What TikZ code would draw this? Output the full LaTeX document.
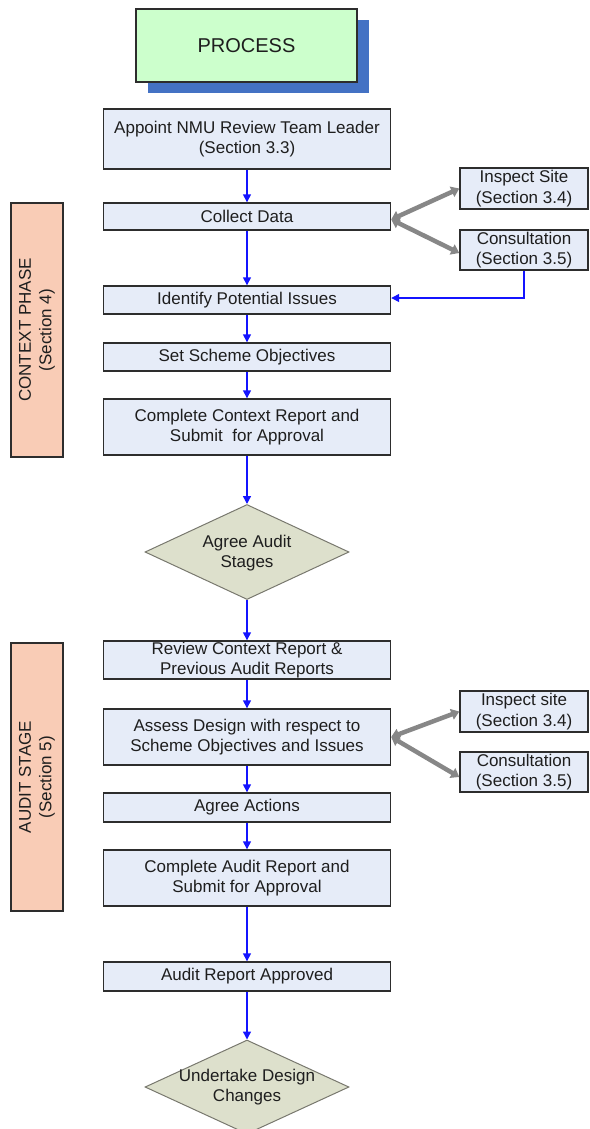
\documentclass[tikz,border=0pt]{standalone}
\usepackage{fontspec}
\setmainfont{Liberation Sans}
\usetikzlibrary{shapes.geometric,arrows.meta}
\definecolor{boxfill}{RGB}{230,236,248}
\definecolor{boxedge}{RGB}{45,45,45}
\definecolor{greenfill}{RGB}{204,255,204}
\definecolor{shadowblue}{RGB}{68,114,196}
\definecolor{peach}{RGB}{249,204,182}
\definecolor{dfill}{RGB}{221,224,204}
\definecolor{dedge}{RGB}{120,120,110}
\definecolor{arrblue}{RGB}{20,20,255}
\definecolor{arrgray}{RGB}{135,135,135}
\definecolor{txt}{RGB}{30,30,30}
\tikzset{
  every node/.style={font=\fontsize{17}{20.5}\selectfont, text=txt},
  stepbox/.style={draw=boxedge, line width=1.4pt, fill=boxfill, rectangle, inner sep=0pt, align=center, minimum width=287pt},
  sidebox/.style={draw=boxedge, line width=1.4pt, fill=boxfill, rectangle, inner sep=0pt, align=center, minimum width=128pt},
  phasebox/.style={draw=boxedge, line width=1.4pt, fill=peach, rectangle, inner sep=0pt, align=center, rotate=90, minimum height=52pt},
  decide/.style={draw=dedge, line width=1pt, fill=dfill, diamond, aspect=2.15, inner sep=0pt, minimum width=204pt},
  decidetext/.style={align=center, inner sep=0pt},
  flow/.style={draw=arrblue, line width=1.4pt, -{Triangle[length=8pt,width=8pt]}},
  link/.style={draw=arrgray, line width=4.5pt, {Triangle[length=8pt,width=11pt]}-{Triangle[length=8pt,width=11pt]}},
}
\begin{document}
\begin{tikzpicture}[x=1pt,y=-1pt]
\useasboundingbox (0,0) rectangle (589,1129);
% PROCESS
\fill[shadowblue] (148,20) rectangle (369,93);
\node[draw=boxedge, line width=1.4pt, fill=greenfill, rectangle, minimum width=221pt, minimum height=73pt, inner sep=0pt, font=\fontsize{20}{24}\selectfont] (process) at (246.5,45.5) {PROCESS};
% main steps
\node[stepbox, minimum height=60pt] (appoint) at (247,139) {Appoint NMU Review Team Leader\\(Section 3.3)};
\node[stepbox, minimum height=27pt] (collect) at (247,216.5) {Collect Data};
\node[stepbox, minimum height=28pt] (identify) at (247,300) {Identify Potential Issues};
\node[stepbox, minimum height=28pt] (setobj) at (247,357) {Set Scheme Objectives};
\node[stepbox, minimum height=56pt] (ccr) at (247,427) {Complete Context Report and\\Submit\ \ for Approval};
\node[decide, minimum height=95pt] (agreestages) at (247,552) {};
\node[decidetext] (agreestagestext) at (247,553) {Agree Audit\\Stages};
\node[stepbox, minimum height=38pt] (review) at (247,660) {Review Context Report \&\\Previous Audit Reports};
\node[stepbox, minimum height=56pt] (assess) at (247,737) {Assess Design with respect to\\Scheme Objectives and Issues};
\node[stepbox, minimum height=29pt] (agreeact) at (247,807.5) {Agree Actions};
\node[stepbox, minimum height=56pt] (car) at (247,878) {Complete Audit Report and\\Submit for Approval};
\node[stepbox, minimum height=29pt] (approved) at (247,976.5) {Audit Report Approved};
\node[decide, minimum height=94pt] (undertake) at (247,1087) {};
\node[decidetext] (undertaketext) at (247,1087) {Undertake Design\\Changes};
% side boxes
\node[sidebox, minimum height=41pt] (insp1) at (524,188.5) {Inspect Site\\(Section 3.4)};
\node[sidebox, minimum height=40pt] (cons1) at (524,250) {Consultation\\(Section 3.5)};
\node[sidebox, minimum height=41pt] (insp2) at (524,711.5) {Inspect site\\(Section 3.4)};
\node[sidebox, minimum height=40pt] (cons2) at (524,772) {Consultation\\(Section 3.5)};
% phase boxes
\node[phasebox, minimum width=254pt] (context) at (37,330) {CONTEXT PHASE\\(Section 4)};
\node[phasebox, minimum width=268pt] (audit) at (37,777) {AUDIT STAGE\\(Section 5)};
% flow arrows
\draw[flow] (appoint) -- (collect);
\draw[flow] (collect) -- (identify);
\draw[flow] (identify) -- (setobj);
\draw[flow] (setobj) -- (ccr);
\draw[flow] (ccr) -- (agreestages.north);
\draw[flow] (agreestages.south) -- (review);
\draw[flow] (review) -- (assess);
\draw[flow] (assess) -- (agreeact);
\draw[flow] (agreeact) -- (car);
\draw[flow] (car) -- (approved);
\draw[flow] (approved) -- (undertake.north);
\draw[flow] (cons1.south) |- ([yshift=2pt]identify.east);
% gray links
\draw[link] ([yshift=-3pt]collect.east) -- (insp1.west);
\draw[link] ([yshift=-3pt]collect.east) -- ([yshift=-3pt]cons1.west);
\draw[link] (assess.east) -- (insp2.west);
\draw[link] (assess.east) -- ([yshift=-5pt]cons2.west);
\end{tikzpicture}
\end{document}
